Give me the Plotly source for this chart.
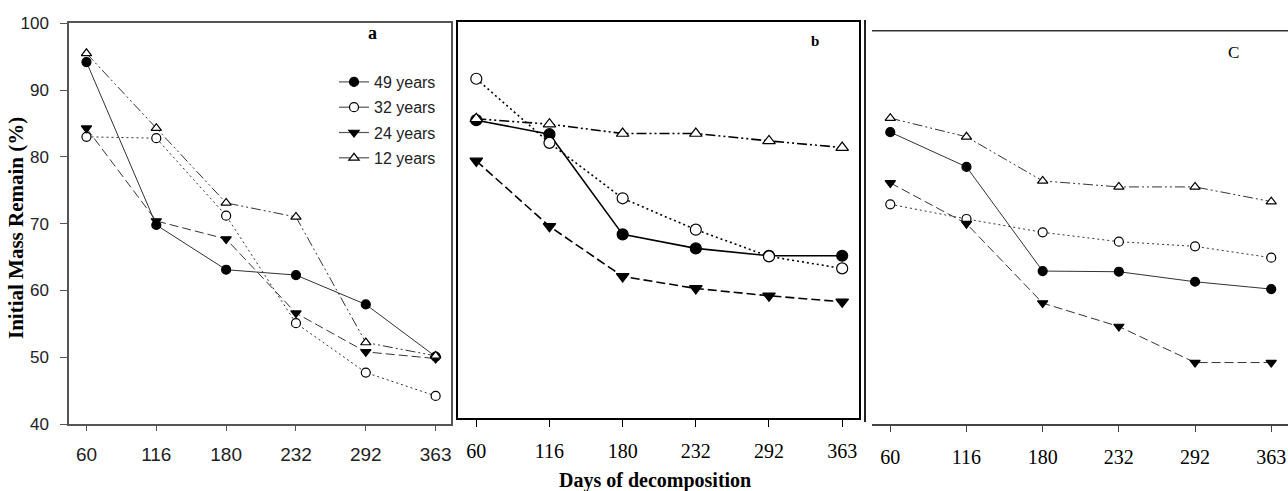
import plotly.graph_objects as go

W, H = 1288, 491

days = ["60", "116", "180", "232", "292", "363"]
series_names = ["49 years", "32 years", "24 years", "12 years"]

# panel a
a_49 = [94.2, 69.8, 63.1, 62.3, 57.9, 50.1]
a_32 = [83.0, 82.8, 71.2, 55.1, 47.7, 44.2]
a_24 = [84.3, 70.4, 67.7, 56.6, 50.8, 49.8]
a_12 = [95.5, 84.3, 73.1, 71.0, 52.2, 50.2]

# panel b
b_49 = [85.5, 83.4, 68.4, 66.3, 65.2, 65.2]
b_32 = [91.7, 82.1, 73.8, 69.1, 65.1, 63.3]
b_24 = [79.4, 69.6, 62.1, 60.3, 59.2, 58.3]
b_12 = [85.7, 84.9, 83.5, 83.5, 82.4, 81.4]

# panel c
c_49 = [83.7, 78.5, 62.9, 62.8, 61.3, 60.2]
c_32 = [72.9, 70.7, 68.7, 67.3, 66.6, 64.9]
c_24 = [76.1, 70.0, 58.1, 54.6, 49.2, 49.2]
c_12 = [85.8, 83.0, 76.4, 75.5, 75.5, 73.3]

y_ticks = [40, 50, 60, 70, 80, 90, 100]

styles = {
    "49 years": dict(symbol="circle", fill="black", dash="solid"),
    "32 years": dict(symbol="circle", fill="white", dash="2px,3px"),
    "24 years": dict(symbol="triangle-down", fill="black", dash="9px,4px"),
    "12 years": dict(symbol="triangle-up", fill="white", dash="10px,3px,2px,3px,2px,3px"),
}

panels = [
    ("x", "y", [a_49, a_32, a_24, a_12], "#333", 1.0, 9),
    ("x2", "y2", [b_49, b_32, b_24, b_12], "black", 1.6, 11),
    ("x3", "y3", [c_49, c_32, c_24, c_12], "#333", 1.0, 9),
]

fig = go.Figure()

for xa, ya, vals, lc, lw, ms in panels:
    for name, v in zip(series_names, vals):
        st = styles[name]
        fig.add_trace(go.Scatter(
            x=days, y=v, xaxis=xa, yaxis=ya,
            mode="lines+markers", showlegend=False,
            line=dict(color=lc, width=lw, dash=st["dash"]),
            marker=dict(symbol=st["symbol"], size=ms,
                        color=st["fill"], line=dict(color="black", width=1.2)),
        ))

# legend entries (solid grey lines like the original), one group each
for name in series_names:
    st = styles[name]
    fig.add_trace(go.Scatter(
        x=[None], y=[None], name=name, legendgroup=name, mode="lines+markers",
        line=dict(color="#555", width=1.2),
        marker=dict(symbol=st["symbol"], size=9,
                    color=st["fill"], line=dict(color="black", width=1.2)),
    ))


def px(v):
    return v / W


def py(v):
    return 1 - v / H


serif = "Liberation Serif, Times New Roman, serif"
sans = "Liberation Sans, Arial, sans-serif"


def label(text, x, y, font, size, angle=0):
    return dict(text=text, x=px(x), y=py(y), xref="paper", yref="paper",
                xanchor="center", yanchor="middle", showarrow=False,
                textangle=angle, font=dict(family=font, size=size, color="black"))


fig.update_layout(
    width=W, height=H, autosize=False,
    margin=dict(l=0, r=0, t=0, b=0, pad=0, autoexpand=False),
    paper_bgcolor="white", plot_bgcolor="white",
    showlegend=True,
    legend=dict(x=px(334), y=py(65), xanchor="left", yanchor="top",
                font=dict(family=sans, size=16, color="#222"),
                bgcolor="rgba(0,0,0,0)", tracegroupgap=1.5, itemwidth=30),
    xaxis=dict(domain=[px(69), px(451)], type="category", range=[-0.25, 5.22],
               showline=True, mirror=True, linecolor="#555", linewidth=1.5,
               ticks="outside", ticklen=5, tickcolor="#555", showgrid=False,
               tickfont=dict(family=sans, size=19, color="#222"),
               ticklabelstandoff=7, anchor="y", automargin=False),
    yaxis=dict(domain=[py(424), py(23.3)], range=[40, 100], tickvals=y_ticks,
               showline=True, mirror=True, linecolor="#555", linewidth=1.5,
               ticks="outside", ticklen=7, tickcolor="#555", showgrid=False,
               zeroline=False, tickfont=dict(family=sans, size=17, color="#222"),
               ticklabelstandoff=8, anchor="x", automargin=False),
    xaxis2=dict(domain=[px(458), px(859)], type="category", range=[-0.25, 5.23],
                showline=True, mirror=True, linecolor="black", linewidth=2,
                ticks="outside", ticklen=7, tickcolor="black", showgrid=False,
                tickfont=dict(family=serif, size=20, color="black"),
                ticklabelstandoff=7, anchor="y2", automargin=False),
    yaxis2=dict(domain=[py(418), py(22)], range=[40.9, 100.2],
                showline=True, mirror=True, linecolor="black", linewidth=2,
                ticks="", showticklabels=False, showgrid=False, zeroline=False,
                anchor="x2", automargin=False),
    xaxis3=dict(domain=[px(872), 1.0], type="category", range=[-0.24, 5.22],
                showline=True, linecolor="#444", linewidth=1.5,
                ticks="outside", ticklen=6, tickcolor="#444", showgrid=False,
                tickfont=dict(family=serif, size=20, color="black"),
                ticklabelstandoff=8, anchor="y3", automargin=False),
    yaxis3=dict(domain=[py(424), py(23.3)], range=[40, 100],
                showline=False, ticks="", showticklabels=False,
                showgrid=False, zeroline=False, anchor="x3", automargin=False),
    shapes=[
        dict(type="line", xref="paper", yref="paper", x0=px(872), x1=1.0,
             y0=py(30.7), y1=py(30.7), line=dict(color="#333", width=1.5)),
        dict(type="line", xref="paper", yref="paper", x0=px(865), x1=px(865),
             y0=py(20), y1=py(422), line=dict(color="#222", width=2)),
    ],
    annotations=[
        label("<b>a</b>", 372, 33, serif, 18),
        label("<b>b</b>", 815, 41, serif, 15),
        label("C", 1233, 52, serif, 17),
        label("<b>Days of decomposition</b>", 655, 480, serif, 20),
        label("<b>Initial Mass Remain (%)</b>", 16, 228, serif, 21, -90),
    ],
)

# the page body has a default 8px margin; drop it so the figure sits at 0,0
fig.write_html("out.html", config={"displayModeBar": False},
               post_script="document.body.style.margin='0';"
                           "document.body.style.overflow='hidden';")
